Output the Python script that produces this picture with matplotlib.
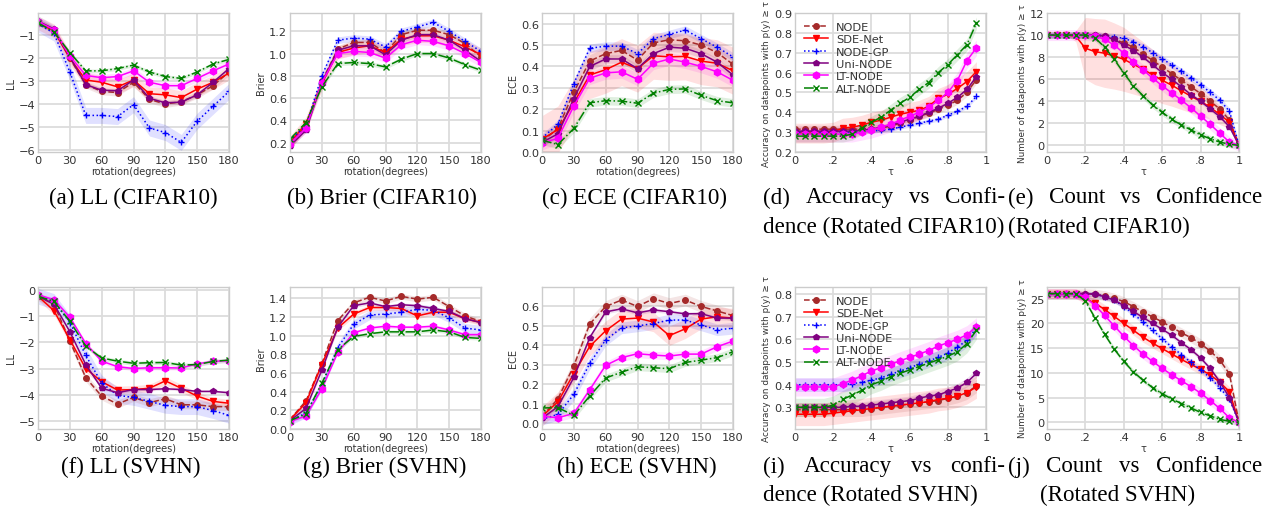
import matplotlib.pyplot as plt
import numpy as np

names = ['NODE', 'SDE-Net', 'NODE-GP', 'Uni-NODE', 'LT-NODE', 'ALT-NODE']
colors = ['#a52a2a', 'red', 'blue', 'purple', 'magenta', 'green']
styles = ['--', '-', ':', '-', '-', '-.']
markers = ['o', 'v', '+', 'p', 'h', 'x']
msizes = [4, 5, 4, 4, 5, 4]

rot = [0, 15, 30, 45, 60, 75, 90, 105, 120, 135, 150, 165, 180]
tau20 = [0, .05, .1, .15, .2, .25, .3, .35, .4, .45, .5, .55, .6, .65, .7, .75, .8, .85, .9, .95]
tau21 = tau20 + [1.0]

# ---- CIFAR10 ----
ll_c = [
    [-0.4, -0.75, -2.0, -3.15, -3.45, -3.5, -3.05, -3.8, -4.0, -3.9, -3.6, -3.2, -2.6],
    [-0.45, -0.8, -2.0, -2.95, -3.05, -3.25, -2.95, -3.55, -3.6, -3.72, -3.35, -3.05, -2.65],
    [-0.5, -0.9, -2.6, -4.5, -4.5, -4.55, -4.03, -5.05, -5.25, -5.68, -4.75, -4.1, -3.45],
    [-0.38, -0.72, -1.95, -3.15, -3.4, -3.42, -2.95, -3.75, -3.95, -3.92, -3.6, -3.05, -2.45],
    [-0.4, -0.75, -1.9, -2.75, -2.85, -2.8, -2.55, -3.05, -3.2, -3.2, -2.88, -2.55, -2.25],
    [-0.45, -0.85, -1.75, -2.55, -2.55, -2.45, -2.3, -2.6, -2.8, -2.88, -2.6, -2.25, -2.05],
]
ll_c_band = [0.15, 0.3, 0.35, 0.1, 0.15, 0.08]

brier_c = [
    [0.18, 0.35, 0.75, 1.04, 1.10, 1.10, 1.01, 1.17, 1.21, 1.21, 1.17, 1.09, 0.97],
    [0.20, 0.37, 0.73, 1.01, 1.05, 1.07, 1.01, 1.13, 1.16, 1.16, 1.12, 1.06, 0.99],
    [0.22, 0.35, 0.80, 1.12, 1.14, 1.13, 1.06, 1.20, 1.24, 1.28, 1.20, 1.11, 1.02],
    [0.17, 0.31, 0.74, 1.03, 1.07, 1.07, 0.99, 1.12, 1.17, 1.17, 1.12, 1.03, 0.93],
    [0.19, 0.33, 0.74, 1.00, 1.02, 1.01, 0.96, 1.08, 1.12, 1.11, 1.07, 1.00, 0.92],
    [0.23, 0.38, 0.70, 0.91, 0.92, 0.91, 0.88, 0.95, 1.00, 1.00, 0.96, 0.90, 0.85],
]
brier_c_band = [0.03, 0.06, 0.03, 0.02, 0.04, 0.02]

ece_c = [
    [0.05, 0.11, 0.28, 0.425, 0.46, 0.475, 0.43, 0.51, 0.525, 0.52, 0.50, 0.465, 0.41],
    [0.06, 0.105, 0.23, 0.36, 0.385, 0.42, 0.39, 0.45, 0.445, 0.447, 0.425, 0.415, 0.38],
    [0.065, 0.13, 0.32, 0.485, 0.495, 0.495, 0.46, 0.53, 0.55, 0.57, 0.53, 0.49, 0.445],
    [0.045, 0.085, 0.25, 0.40, 0.435, 0.435, 0.39, 0.46, 0.49, 0.485, 0.46, 0.42, 0.36],
    [0.04, 0.065, 0.215, 0.345, 0.37, 0.375, 0.34, 0.415, 0.435, 0.42, 0.40, 0.375, 0.335],
    [0.055, 0.035, 0.11, 0.23, 0.24, 0.238, 0.228, 0.275, 0.293, 0.295, 0.265, 0.24, 0.23],
]
ece_c_band = [0.03, 0.11, 0.02, 0.02, 0.03, 0.02]

acc_c = [
    [.315, .315, .315, .315, .315, .315, .315, .315, .315, .32, .33, .345, .36, .38, .395, .415, .435, .46, .50, .565],
    [.295, .295, .295, .295, .30, .32, .325, .335, .35, .36, .375, .39, .40, .41, .43, .47, .49, .52, .555, .605],
    [.30, .30, .30, .30, .30, .30, .30, .30, .305, .31, .315, .325, .335, .345, .355, .365, .385, .405, .43, .48],
    [.305, .305, .305, .305, .305, .305, .305, .31, .315, .325, .335, .35, .365, .38, .40, .42, .445, .475, .515, .58],
    [.29, .29, .29, .29, .29, .29, .29, .30, .31, .325, .34, .36, .38, .40, .425, .46, .50, .56, .66, .725],
    [.28, .28, .28, .28, .28, .28, .29, .32, .35, .375, .41, .445, .475, .515, .55, .60, .64, .69, .74, .85],
]
acc_c_band = [0.02, 0.05, 0.01, 0.01, 0.04, 0.03]

cnt_c = [
    [10, 10, 10, 10, 10, 10, 9.9, 9.6, 9.3, 8.9, 8.3, 7.7, 7.1, 6.5, 5.9, 5.3, 4.7, 4.0, 3.3, 2.3, 0],
    [10, 10, 10, 9.9, 8.8, 8.5, 8.35, 8.1, 7.8, 7.35, 6.9, 6.4, 5.9, 5.45, 4.95, 4.45, 4.0, 3.45, 2.8, 2.1, 0],
    [10, 10, 10, 10, 10, 10, 9.95, 9.85, 9.7, 9.4, 8.95, 8.4, 7.85, 7.3, 6.7, 6.1, 5.5, 4.8, 4.1, 3.1, 0],
    [10, 10, 10, 10, 10, 10, 9.9, 9.6, 9.1, 8.6, 8.0, 7.3, 6.6, 6.0, 5.3, 4.6, 4.0, 3.3, 2.6, 1.7, 0],
    [10, 10, 10, 10, 10, 9.95, 9.6, 9.1, 8.35, 7.6, 6.85, 6.1, 5.4, 4.75, 4.1, 3.4, 2.65, 1.9, 1.1, 0.3, 0],
    [10, 10, 10, 10, 10, 9.75, 8.9, 7.8, 6.55, 5.4, 4.5, 3.65, 3.0, 2.35, 1.85, 1.4, 0.95, 0.6, 0.3, 0.1, 0],
]
cnt_c_band = [0.3, [0, 0, 0, 0.5, 2.8, 3.0, 3.1, 3.0, 2.9, 2.7, 2.5, 2.3, 2.1, 1.9, 1.7, 1.5, 1.3, 1.1, 0.9, 0.6, 0], 0.3, 0.2, 0.5, 0.3]

# ---- SVHN ----
ll_s = [
    [-0.25, -0.55, -1.95, -3.35, -4.05, -4.35, -4.1, -4.3, -4.15, -4.38, -4.38, -4.45, -4.45],
    [-0.25, -0.8, -1.9, -3.0, -3.5, -3.82, -3.8, -3.75, -3.47, -3.75, -4.05, -4.25, -4.32],
    [-0.25, -0.45, -1.25, -2.5, -3.55, -4.02, -4.1, -4.25, -4.4, -4.45, -4.45, -4.6, -4.78],
    [-0.25, -0.55, -1.6, -2.85, -3.75, -3.92, -3.8, -3.8, -3.77, -3.8, -3.87, -3.87, -3.92],
    [-0.2, -0.38, -1.05, -2.05, -2.72, -2.93, -3.0, -2.97, -2.97, -2.98, -2.82, -2.73, -2.7],
    [-0.25, -0.45, -1.2, -2.15, -2.6, -2.72, -2.8, -2.78, -2.77, -2.87, -2.85, -2.73, -2.68],
]
ll_s_band = [0.15, 0.15, 0.3, 0.05, 0.08, 0.08]

brier_s = [
    [0.10, 0.30, 0.70, 1.16, 1.35, 1.41, 1.37, 1.42, 1.39, 1.41, 1.31, 1.21, 1.15],
    [0.10, 0.28, 0.69, 1.08, 1.23, 1.30, 1.30, 1.29, 1.21, 1.25, 1.25, 1.18, 1.14],
    [0.09, 0.17, 0.47, 0.87, 1.12, 1.22, 1.23, 1.25, 1.28, 1.27, 1.19, 1.08, 1.06],
    [0.09, 0.22, 0.63, 1.09, 1.32, 1.35, 1.31, 1.33, 1.32, 1.29, 1.26, 1.18, 1.14],
    [0.08, 0.14, 0.43, 0.82, 1.03, 1.08, 1.10, 1.09, 1.09, 1.10, 1.06, 1.01, 1.01],
    [0.09, 0.16, 0.49, 0.85, 0.99, 1.02, 1.04, 1.04, 1.04, 1.06, 1.04, 0.98, 0.97],
]
brier_s_band = [0.03, 0.03, 0.05, 0.02, 0.02, 0.02]

ece_s = [
    [0.035, 0.125, 0.295, 0.51, 0.60, 0.633, 0.60, 0.64, 0.615, 0.633, 0.60, 0.577, 0.553],
    [0.035, 0.11, 0.255, 0.395, 0.475, 0.535, 0.54, 0.52, 0.45, 0.485, 0.535, 0.547, 0.54],
    [0.02, 0.045, 0.148, 0.307, 0.428, 0.49, 0.50, 0.512, 0.53, 0.53, 0.505, 0.48, 0.488],
    [0.025, 0.085, 0.235, 0.44, 0.572, 0.588, 0.567, 0.582, 0.573, 0.562, 0.563, 0.54, 0.54],
    [0.035, 0.028, 0.05, 0.172, 0.297, 0.337, 0.357, 0.35, 0.345, 0.355, 0.355, 0.393, 0.422],
    [0.078, 0.08, 0.04, 0.14, 0.232, 0.262, 0.29, 0.285, 0.28, 0.312, 0.324, 0.337, 0.367],
]
ece_s_band = [0.03, 0.05, 0.03, 0.01, 0.02, 0.02]

acc_s = [
    [.29, .29, .29, .29, .29, .29, .29, .29, .295, .30, .305, .31, .315, .32, .325, .33, .34, .35, .365, .395],
    [.27, .27, .27, .27, .275, .28, .285, .29, .295, .30, .305, .31, .315, .32, .325, .335, .34, .35, .365, .39],
    [.40, .40, .40, .40, .40, .40, .405, .41, .42, .43, .445, .46, .475, .49, .505, .52, .54, .565, .595, .65],
    [.30, .30, .30, .30, .30, .30, .305, .305, .31, .315, .32, .325, .33, .34, .35, .355, .37, .385, .41, .45],
    [.39, .39, .39, .39, .39, .405, .42, .44, .46, .475, .49, .505, .52, .535, .55, .57, .585, .60, .62, .655],
    [.30, .30, .30, .30, .31, .335, .355, .375, .40, .415, .435, .45, .465, .48, .495, .51, .525, .545, .58, .64],
]
acc_s_band = [0.03, 0.05, 0.03, 0.02, 0.04, 0.04]

cnt_s = [
    [26, 26, 26, 26, 26, 25.9, 25.6, 25.1, 24.4, 23.4, 22.3, 21.3, 20.3, 19.2, 18.1, 17.1, 15.9, 14.4, 12.6, 9.8, 0],
    [26, 26, 26, 26, 25.0, 24.1, 22.8, 21.4, 20.0, 18.6, 17.2, 16.0, 14.9, 13.8, 12.7, 11.7, 10.7, 9.6, 8.1, 6.2, 0],
    [26, 26, 26, 26, 26, 25.9, 25.4, 24.7, 23.4, 21.9, 20.3, 18.6, 16.9, 15.2, 13.7, 12.1, 10.6, 9.0, 7.0, 4.7, 0],
    [26, 26, 26, 26, 26, 25.9, 25.4, 24.7, 23.6, 22.4, 21.2, 20.0, 18.8, 17.6, 16.1, 14.7, 13.0, 10.9, 8.2, 5.0, 0],
    [26, 26, 26, 26, 25.3, 23.6, 21.6, 19.5, 17.4, 15.5, 13.8, 12.3, 10.9, 9.6, 8.4, 7.2, 5.9, 4.4, 2.8, 0.9, 0],
    [26, 26, 26, 26, 24.5, 21.1, 17.8, 14.8, 12.3, 10.2, 8.5, 7.0, 5.8, 4.7, 3.8, 2.9, 2.0, 1.3, 0.6, 0.2, 0],
]
cnt_s_band = [1.0, 1.0, 0.5, 0.5, 1.0, 0.5]

W, H = 1272, 510
fig = plt.figure(figsize=(W / 100, H / 100), dpi=100)
LAB = 7


def make_ax(left, top, right, bottom):
    ax = fig.add_axes([left / W, 1 - bottom / H, (right - left) / W, (bottom - top) / H])
    ax.set_facecolor('white')
    ax.grid(True, color='#dcdcdc', lw=1.3)
    ax.set_axisbelow(True)
    for s in ax.spines.values():
        s.set_color('#cccccc')
        s.set_linewidth(1.0)
    ax.tick_params(length=0, labelsize=8.2, colors='#333333', pad=2)
    return ax


def draw(ax, x, data, bands, order=(5, 4, 3, 2, 1, 0)):
    x = np.array(x)
    for i in order:
        y = np.array(data[i])
        b = np.array(bands[i]) if isinstance(bands[i], list) else bands[i]
        ax.fill_between(x, y - b, y + b, color=colors[i], alpha=0.12, lw=0)
    for i in range(6):
        ax.plot(x, data[i], color=colors[i], ls=styles[i], marker=markers[i],
                ms=msizes[i], lw=1.1, mew=1.0, label=names[i])


def rot_panel(ax, data, bands, ylabel, ylim, yticks, yfmt):
    draw(ax, rot, data, bands)
    ax.set_xlim(0, 180)
    ax.set_xticks(range(0, 181, 30))
    ax.set_ylim(*ylim)
    ax.set_yticks(yticks)
    ax.set_yticklabels([yfmt.format(v).replace('-', '\u2212') for v in yticks])
    ax.set_ylabel(ylabel, fontsize=LAB, color='#333333', labelpad=2)
    ax.set_xlabel('rotation(degrees)', fontsize=LAB, color='#333333', labelpad=1)


def tau_panel(ax, x, data, bands, ylabel, ylim, yticks, legend=False):
    draw(ax, x, data, bands)
    ax.set_xlim(0, 1)
    ax.set_xticks([0, .2, .4, .6, .8, 1])
    ax.set_xticklabels(['0', '.2', '.4', '.6', '.8', '1'])
    ax.set_ylim(*ylim)
    ax.set_yticks(yticks)
    ax.set_ylabel(ylabel, fontsize=6.4, color='#333333', labelpad=2)
    ax.set_xlabel('\u03c4', fontsize=LAB, color='#333333', labelpad=1)
    if legend:
        ax.legend(loc='upper left', frameon=False, fontsize=8.2, handlelength=2.1,
                  handletextpad=0.7, labelspacing=0.2, borderaxespad=0.4,
                  labelcolor='#333333')


lefts = [38, 290, 542, 795, 1047]
rights = [229, 481, 733, 986, 1239]
acc_lab = 'Accuracy on datapoints with p(y) \u2265 \u03c4'
cnt_lab = 'Number of datapoints with p(y) \u2265 \u03c4'

# top row
ax = make_ax(lefts[0], 14, rights[0], 153)
rot_panel(ax, ll_c, ll_c_band, 'LL', (-6.1, -0.02), [-6, -5, -4, -3, -2, -1], '{:d}')
ax = make_ax(lefts[1], 14, rights[1], 153)
rot_panel(ax, brier_c, brier_c_band, 'Brier', (0.115, 1.365), [0.2, 0.4, 0.6, 0.8, 1.0, 1.2], '{:.1f}')
ax = make_ax(lefts[2], 14, rights[2], 153)
rot_panel(ax, ece_c, ece_c_band, 'ECE', (0.0, 0.65), [0, .1, .2, .3, .4, .5, .6], '{:.1f}')
ax = make_ax(lefts[3], 14, rights[3], 153)
tau_panel(ax, tau20, acc_c, acc_c_band, acc_lab, (0.2, 0.9), [.2, .3, .4, .5, .6, .7, .8, .9], legend=True)
ax = make_ax(lefts[4], 14, rights[4], 153)
tau_panel(ax, tau21, cnt_c, cnt_c_band, cnt_lab, (-0.6, 12), [0, 2, 4, 6, 8, 10, 12])

# bottom row
ax = make_ax(lefts[0], 288, rights[0], 430)
rot_panel(ax, ll_s, ll_s_band, 'LL', (-5.3, 0.1), [-5, -4, -3, -2, -1, 0], '{:d}')
ax = make_ax(lefts[1], 288, rights[1], 430)
rot_panel(ax, brier_s, brier_s_band, 'Brier', (0.0, 1.52), [0, .2, .4, .6, .8, 1.0, 1.2, 1.4], '{:.1f}')
ax = make_ax(lefts[2], 288, rights[2], 430)
rot_panel(ax, ece_s, ece_s_band, 'ECE', (-0.03, 0.70), [0, .1, .2, .3, .4, .5, .6], '{:.1f}')
ax = make_ax(lefts[3], 288, rights[3], 430)
tau_panel(ax, tau20, acc_s, acc_s_band, acc_lab, (0.205, 0.83), [.3, .4, .5, .6, .7, .8], legend=True)
ax = make_ax(lefts[4], 288, rights[4], 430)
tau_panel(ax, tau21, cnt_s, cnt_s_band, cnt_lab, (-1.35, 27.35), [0, 5, 10, 15, 20, 25])

# captions
cap = dict(fontsize=16.6, family='Liberation Serif', color='black', va='center')
renderer = fig.canvas.get_renderer()


def caption(txt, x, y, ha='left'):
    fig.text(x / W, 1 - y / H, txt, ha=ha, **cap)


def justify(words, x0, x1, y):
    ts = [fig.text(0, 1 - y / H, w, ha='left', **cap) for w in words]
    widths = [t.get_window_extent(renderer).width for t in ts]
    gap = (x1 - x0 - sum(widths)) / (len(words) - 1)
    x = x0
    for t, w in zip(ts, widths):
        t.set_x(x / W)
        x += w + gap


caption('(a) LL (CIFAR10)', 133, 198, 'center')
caption('(b) Brier (CIFAR10)', 382, 198, 'center')
caption('(c) ECE (CIFAR10)', 634, 198, 'center')
justify(['(d)', 'Accuracy', 'vs', 'Confi-'], 763, 1005, 198)
justify(['(e)', 'Count', 'vs', 'Confidence'], 1008, 1262, 198)
caption('dence (Rotated CIFAR10)', 763, 227)
caption('(Rotated CIFAR10)', 1008, 227)

caption('(f) LL (SVHN)', 131, 467, 'center')
caption('(g) Brier (SVHN)', 385, 467, 'center')
caption('(h) ECE (SVHN)', 637, 467, 'center')
justify(['(i)', 'Accuracy', 'vs', 'confi-'], 763, 1005, 467)
justify(['(j)', 'Count', 'vs', 'Confidence'], 1008, 1262, 467)
caption('dence (Rotated SVHN)', 763, 495)
caption('(Rotated SVHN)', 1040, 495)

fig.savefig('out.png', dpi=100, facecolor='white')
